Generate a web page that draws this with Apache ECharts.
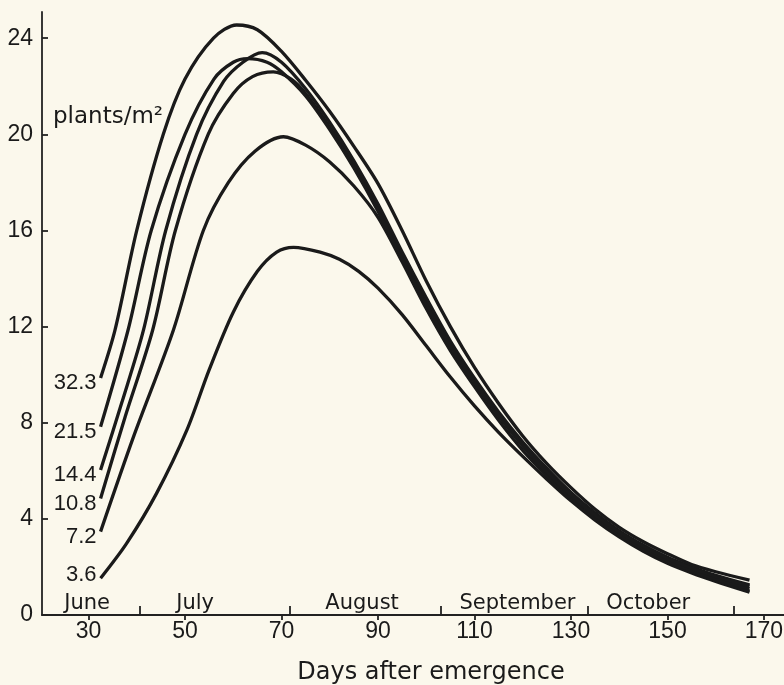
<!DOCTYPE html>
<html><head><meta charset="utf-8">
<script src="https://cdn.jsdelivr.net/npm/echarts@6/dist/echarts.min.js"></script>
<style>html,body{margin:0;padding:0;background:#fbf8ec}#c{width:784px;height:685px}</style>
</head><body><div id="c"></div><script>
// ---- data ----
const xTicks = [30, 50, 70, 90, 110, 130, 150, 170];
const yTicks = [0, 4, 8, 12, 16, 20, 24];
const monthNames = ['June', 'July', 'August', 'September', 'October'];
const monthCenters = [29.7, 52.1, 86.7, 118.9, 146];
const monthBounds = [40.7, 71.8, 103.1, 133.4, 163.8];
const densityNames = ['3.6', '7.2', '10.8', '14.4', '21.5', '32.3'];

const curve3_6 = [[32.5,1.53],[37.9,2.98],[44.1,5.06],[50.4,7.7],[55,10.2],[60,12.6],[65,14.3],[69,15.1],[72.5,15.3],[78,15.1],[82,14.8],[86,14.3],[90,13.6],[95,12.5],[100,11.2],[105,9.9],[110,8.7],[115,7.6],[120,6.6],[125,5.65],[130,4.75],[135,3.95],[140,3.25],[145,2.65],[150,2.15],[155,1.75],[160,1.4],[167,0.95]];
const curve7_2 = [[32.5,3.47],[39.3,7.4],[47.6,11.86],[53.8,16.0],[59,18.0],[64.5,19.3],[70.4,19.9],[75,19.55],[80,18.85],[85,17.85],[90,16.55],[95,14.7],[100,12.75],[105,11.0],[110,9.5],[115,8.1],[120,6.85],[125,5.8],[130,4.85],[135,4.0],[140,3.3],[145,2.7],[150,2.2],[155,1.8],[160,1.45],[167,1.0]];
const curve10_8 = [[32.5,4.85],[37.6,8.25],[43.3,11.86],[48,16.0],[54.8,20.0],[60,21.7],[64,22.4],[68.3,22.6],[72,22.3],[75,21.7],[80,20.3],[85,18.7],[90,16.9],[95,14.9],[100,13.0],[105,11.25],[110,9.7],[115,8.3],[120,7.05],[125,5.95],[130,4.95],[135,4.1],[140,3.35],[145,2.75],[150,2.25],[155,1.85],[160,1.5],[167,1.1]];
const curve14_4 = [[32.5,6.03],[37,8.9],[41.4,11.86],[46,16.0],[52.4,20.0],[58,22.2],[62,23.0],[66,23.4],[70,23.0],[75,21.9],[80,20.5],[85,18.9],[90,17.1],[95,15.1],[100,13.2],[105,11.4],[110,9.85],[115,8.45],[120,7.2],[125,6.1],[130,5.1],[135,4.25],[140,3.5],[145,2.9],[150,2.4],[155,2.0],[160,1.65],[167,1.25]];
const curve21_5 = [[32.5,7.83],[38.2,11.86],[43,16.0],[50,20.0],[56,22.3],[60,23.0],[63,23.15],[67,23.0],[70,22.6],[75,21.6],[80,20.2],[85,18.6],[90,16.8],[95,14.8],[100,12.9],[105,11.2],[110,9.7],[115,8.3],[120,7.05],[125,5.95],[130,5.0],[135,4.15],[140,3.45],[145,2.85],[150,2.35],[155,1.95],[160,1.6],[167,1.2]];
const curve32_3 = [[32.5,9.86],[35.5,11.86],[40,16.0],[45.5,20.0],[50,22.3],[55.9,24.0],[60.7,24.55],[65,24.35],[70,23.45],[75,22.25],[80,20.95],[85,19.5],[90,17.95],[95,16.0],[100,13.9],[105,12.0],[110,10.3],[115,8.8],[120,7.45],[125,6.3],[130,5.3],[135,4.4],[140,3.65],[145,3.05],[150,2.55],[155,2.1],[160,1.8],[167,1.45]];

const curves = [curve3_6, curve7_2, curve10_8, curve14_4, curve21_5, curve32_3];

// ---- styles ----
const INK = '#1a1a1a';
const NUMFONT = 'Liberation Sans';
const TXTFONT = 'DejaVu Sans';
const labelOffsets = [[0,-3],[0,5],[0,5],[0,5],[0,5],[0,5]];

const chart = echarts.init(document.getElementById('c'), null, {renderer: 'canvas'});

const lineSeries = curves.map((c, i) => ({
  type: 'line', name: densityNames[i], data: c, xAxisIndex: 0, yAxisIndex: 0,
  smooth: 0.3, showSymbol: false, symbol: 'none',
  lineStyle: {color: INK, width: 3.3}, animation: false, z: 3
}));

const labelSeriesBase = {
  type: 'scatter', xAxisIndex: 0, yAxisIndex: 0, symbol: 'circle', symbolSize: 0,
  itemStyle: {color: INK, opacity: 1}, animation: false, silent: true, z: 4
};

const startLabels = Object.assign({}, labelSeriesBase, {
  data: curves.map((c, i) => ({
    value: c[0], name: densityNames[i],
    label: {show: true, position: 'left', distance: 4, offset: labelOffsets[i], opacity: 1,
      formatter: densityNames[i], fontFamily: NUMFONT, fontSize: 22, color: INK}
  }))
});

const monthLabels = Object.assign({}, labelSeriesBase, {
  data: monthNames.map((m, i) => ({
    value: [monthCenters[i], 0], name: m,
    label: {show: true, position: 'top', distance: 1, formatter: m, opacity: 1,
      fontFamily: TXTFONT, fontSize: 21, color: INK}
  }))
});

const axisLineStyle = {color: '#222', width: 1.8};

chart.setOption({
  backgroundColor: '#fbf8ec',
  animation: false,
  grid: {left: 42, right: 0, top: 12, bottom: 70, containLabel: false, outerBoundsMode: 'none'},
  xAxis: [{
    type: 'value', min: 20.36, max: 174.15, position: 'bottom',
    axisLine: {show: true, onZero: false, lineStyle: axisLineStyle},
    axisTick: {show: true, inside: false, length: 5, customValues: xTicks, lineStyle: axisLineStyle},
    axisLabel: {show: true, customValues: xTicks, margin: 5, fontFamily: NUMFONT, fontSize: 23, color: INK},
    splitLine: {show: false}
  }, {
    type: 'value', min: 20.36, max: 174.15, position: 'bottom',
    axisLine: {show: false},
    axisTick: {show: true, inside: true, length: 9, customValues: monthBounds, lineStyle: axisLineStyle},
    axisLabel: {show: false},
    splitLine: {show: false}
  }],
  yAxis: {
    type: 'value', min: 0, max: 25.09,
    axisLine: {show: true, onZero: false, lineStyle: axisLineStyle},
    axisTick: {show: true, inside: true, length: 6, customValues: yTicks, lineStyle: axisLineStyle},
    axisLabel: {show: true, customValues: yTicks, margin: 9, fontFamily: NUMFONT, fontSize: 23, color: INK},
    splitLine: {show: false}
  },
  graphic: [
    {type: 'text', x: 53, y: 117, style: {text: 'plants/m²', font: '23px "DejaVu Sans"', fill: INK, textAlign: 'left', textVerticalAlign: 'middle'}},
    {type: 'text', x: 431, y: 673, style: {text: 'Days after emergence', font: '24px "DejaVu Sans"', fill: INK, textAlign: 'center', textVerticalAlign: 'middle'}}
  ],
  series: [...lineSeries, startLabels, monthLabels]
});
</script></body></html>
